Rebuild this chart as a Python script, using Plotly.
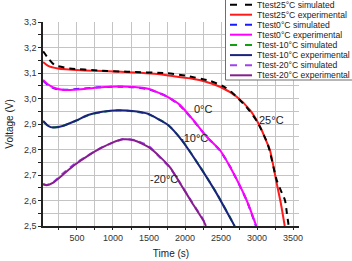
import plotly.graph_objects as go

# ---------------- data ----------------
t_25_exp = [30, 100, 236, 555, 1111, 1653, 1764, 2069, 2300, 2486, 2718, 2903, 3042, 3111, 3180, 3273, 3330, 3385]
v_25_exp = [3.143, 3.128, 3.118, 3.111, 3.105, 3.095, 3.090, 3.079, 3.065, 3.046, 3.007, 2.954, 2.890, 2.845, 2.797, 2.668, 2.590, 2.500]

t_25_sim = [30, 100, 190, 400, 800, 1200, 1750, 2000, 2347, 2550, 2667, 2722, 2850, 3000, 3150, 3273, 3330, 3389, 3415, 3440]
v_25_sim = [3.185, 3.158, 3.131, 3.118, 3.110, 3.105, 3.099, 3.090, 3.069, 3.045, 3.020, 3.005, 2.968, 2.910, 2.820, 2.680, 2.640, 2.600, 2.550, 2.500]

t_0_exp = [30, 100, 200, 329, 500, 800, 1069, 1300, 1486, 1653, 1764, 1931, 2116, 2301, 2486, 2625, 2857, 2990]
v_0_exp = [3.073, 3.055, 3.040, 3.033, 3.035, 3.043, 3.047, 3.045, 3.038, 3.020, 3.005, 2.974, 2.915, 2.850, 2.797, 2.732, 2.600, 2.500]

t_0_sim = [30, 100, 200, 329, 500, 800, 1069, 1300, 1486, 1653, 1764, 1931, 2116, 2301, 2486, 2625, 2857, 2985]
v_0_sim = [3.070, 3.052, 3.038, 3.034, 3.037, 3.044, 3.046, 3.044, 3.036, 3.020, 3.006, 2.972, 2.914, 2.850, 2.796, 2.733, 2.600, 2.500]

t_m10_exp = [30, 100, 167, 300, 500, 653, 850, 1069, 1300, 1486, 1653, 1764, 1954, 2208, 2440, 2671, 2690]
v_m10_exp = [2.912, 2.893, 2.886, 2.892, 2.915, 2.935, 2.948, 2.954, 2.950, 2.940, 2.915, 2.896, 2.837, 2.732, 2.627, 2.509, 2.500]

t_m10_sim = [30, 100, 167, 300, 500, 653, 850, 1069, 1300, 1486, 1653, 1764, 1954, 2208, 2440, 2671, 2690]
v_m10_sim = [2.910, 2.892, 2.887, 2.893, 2.914, 2.934, 2.947, 2.953, 2.949, 2.939, 2.916, 2.897, 2.838, 2.733, 2.628, 2.510, 2.500]

t_m20_exp = [30, 80, 171, 300, 460, 640, 830, 1000, 1143, 1300, 1500, 1653, 1792, 1931, 2100, 2254, 2290]
v_m20_exp = [2.665, 2.660, 2.670, 2.700, 2.738, 2.773, 2.805, 2.828, 2.840, 2.835, 2.808, 2.771, 2.730, 2.668, 2.590, 2.522, 2.500]

t_m20_sim = [30, 80, 171, 300, 460, 640, 830, 1000, 1143, 1300, 1500, 1653, 1792, 1931, 2100, 2254, 2290]
v_m20_sim = [2.663, 2.661, 2.672, 2.705, 2.742, 2.775, 2.806, 2.827, 2.841, 2.837, 2.813, 2.768, 2.728, 2.669, 2.592, 2.524, 2.500]

series_names = ["Ttest25°C simulated", "Ttest25°C experimental",
                "Ttest0°C simulated", "Ttest0°C experimental",
                "Ttest-10°C simulated", "Ttest-10°C experimental",
                "Ttest-20°C simulated", "Ttest-20°C experimental"]

label_texts = ["25°C", "0°C", "-10°C", "-20°C"]
label_t = [3201, 2250, 2118, 1708]
label_v = [2.915, 2.958, 2.846, 2.683]

x_tickvals = [250 * k for k in range(1, 15)]
x_ticktext = [str(v) if v % 500 == 0 else "" for v in x_tickvals]
y_tickvals = [2.5 + 0.05 * k for k in range(0, 17)]
y_ticktext = [("%.1f" % v).replace(".", ",") if k % 2 == 0 else "" for k, v in enumerate(y_tickvals)]

# ---------------- styles ----------------
colors = ["#000000", "#ff1a1a", "#1a1aff", "#ff00ff", "#10a010", "#1a237e", "#a040f0", "#861e8e"]
dashed = [True, False, True, False, True, False, True, False]
DASH = "6px,5px"
FONT = "Arial, Liberation Sans, sans-serif"

series = [(t_25_sim, v_25_sim), (t_25_exp, v_25_exp),
          (t_0_sim, v_0_sim), (t_0_exp, v_0_exp),
          (t_m10_sim, v_m10_sim), (t_m10_exp, v_m10_exp),
          (t_m20_sim, v_m20_sim), (t_m20_exp, v_m20_exp)]

order = [1, 0, 2, 3, 4, 5, 6, 7]

fig = go.Figure()
for i in order:
    tx, vy = series[i]
    fig.add_trace(go.Scatter(
        x=tx, y=vy, mode="lines", name=series_names[i],
        line=dict(color=colors[i], width=2, dash=DASH if dashed[i] else "solid",
                  shape="spline", smoothing=0.6),
        showlegend=False))

W, H = 352, 261
ML, MR, MT, MB = 43, 53, 22, 35
PW, PH = W - ML - MR, H - MT - MB

def px2paper_x(px):
    return (px - ML) / PW

def px2paper_y(py):
    return 1 - (py - MT) / PH

shapes = []
annotations = []
shapes.append(dict(type="rect", xref="paper", yref="paper",
                   x0=px2paper_x(225.5), x1=px2paper_x(360), y0=px2paper_y(80), y1=px2paper_y(-5),
                   line=dict(color="#6e6e6e", width=1), fillcolor="white", layer="above"))
leg_y = [4.7, 14.7, 24.7, 34.7, 44.9, 55.1, 65.2, 75.3]
for i, name in enumerate(series_names):
    yy = px2paper_y(leg_y[i])
    shapes.append(dict(type="line", xref="paper", yref="paper",
                       x0=px2paper_x(230), x1=px2paper_x(252), y0=yy, y1=yy,
                       line=dict(color=colors[i], width=2, dash="7px,8px" if dashed[i] else "solid"),
                       layer="above"))
    annotations.append(dict(text=name, xref="paper", yref="paper", x=px2paper_x(254.5), y=yy,
                            xanchor="left", yanchor="middle", showarrow=False,
                            font=dict(size=8.6, color="#222222", family=FONT)))

for txt, tx, vy in zip(label_texts, label_t, label_v):
    annotations.append(dict(text=txt, x=tx, y=vy, xref="x", yref="y", showarrow=False,
                            font=dict(size=11, color="#222222", family=FONT)))

fig.update_layout(
    width=W, height=H,
    margin=dict(l=ML, r=MR, t=MT, b=MB, pad=0, autoexpand=False),
    paper_bgcolor="white", plot_bgcolor="white",
    font=dict(family=FONT, size=9, color="#333333"),
    shapes=shapes, annotations=annotations,
    showlegend=False,
)
fig.update_xaxes(
    range=[28, 3583], tickmode="array", tickvals=x_tickvals, ticktext=x_ticktext,
    showgrid=True, gridcolor="#c4c4c4", gridwidth=1.2,
    showline=True, linecolor="#222", linewidth=1.5,
    ticks="outside", ticklen=2, tickcolor="#222", tickwidth=1,
    zeroline=False, automargin=False, tickfont=dict(size=9, color="#333"),
    title=dict(text="Time (s)", font=dict(size=10, color="#222"), standoff=8),
)
fig.update_yaxes(
    range=[2.5, 3.3], tickmode="array", tickvals=y_tickvals, ticktext=y_ticktext,
    showgrid=True, gridcolor="#c4c4c4", gridwidth=1.2,
    showline=True, linecolor="#222", linewidth=1.5,
    ticks="outside", ticklen=3, tickcolor="#222", tickwidth=1,
    zeroline=False, automargin=False, tickfont=dict(size=9, color="#333"),
    title=dict(text="Voltage (V)", font=dict(size=10, color="#222"), standoff=8),
)

fig.write_html("out.html")
